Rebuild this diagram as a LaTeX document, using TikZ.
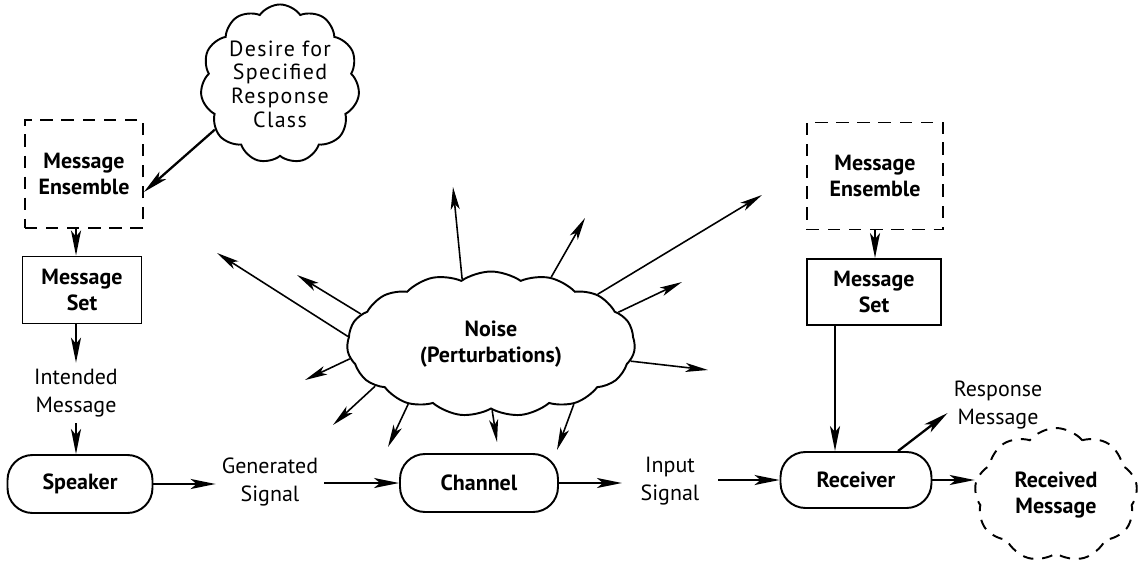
\documentclass[tikz,border=0pt]{standalone}
\usepackage{fontspec}
\setmainfont{PT Sans}
\usetikzlibrary{positioning,arrows.meta,shapes.symbols}
\tikzstyle{block}      = [draw, line width=1.1pt, align=center, font=\fontsize{12.5}{15}\selectfont\bfseries]
\tikzstyle{ensemble}   = [block, dash pattern=on 7pt off 5pt, minimum width=2.36cm, minimum height=2.16cm]
\tikzstyle{msgset}     = [block, minimum width=2.4cm, minimum height=1.34cm]
\tikzstyle{agent}      = [block, rounded corners=0.5cm, minimum height=1.16cm]
\tikzstyle{flowtext}   = [align=center, font=\fontsize{12.5}{16}\selectfont]
\tikzstyle{wish}       = [cloud, draw, line width=1.1pt, cloud puffs=11, cloud puff arc=110, aspect=1, inner sep=0pt, minimum width=2.75cm, minimum height=2.75cm, align=center, font=\fontsize{12.5}{13.5}\selectfont\addfontfeature{LetterSpace=6}]
\tikzstyle{noisecloud} = [cloud, draw, line width=1.1pt, cloud puffs=15, cloud puff arc=70, aspect=2, minimum width=5.76cm, minimum height=2.9cm, align=center, font=\fontsize{12.5}{15}\selectfont\bfseries]
\tikzstyle{dreamcloud} = [cloud, draw, line width=1.1pt, dash pattern=on 6pt off 5pt, cloud puffs=9, cloud puff arc=100, aspect=1.2, minimum width=3.26cm, minimum height=2.68cm, align=center, font=\fontsize{12.5}{15}\selectfont\bfseries]
\tikzstyle{arrow}      = [line width=1.3pt, -{Stealth[length=5mm,width=2mm,inset=1.2mm]}]
\tikzstyle{noisearrow} = [line width=0.9pt, -{Stealth[length=4.5mm,width=1.8mm,inset=1.1mm]}]

\begin{document}
\begin{tikzpicture}[x=0.02cm,y=-0.02cm]
	\useasboundingbox (0,0) rectangle (1146,571);

	% speaker side
	\node[wish] (desire) at (280,84) {Desire for\\Specified\\Response\\Class};
	\node[ensemble] (ensL) at (84,174) {Message\\Ensemble};
	\node[msgset, minimum width=2.38cm] (setL) at (82,290) {Message\\Set};
	\node[flowtext] (intended) at (76,393) {Intended\\Message};
	\node[agent, minimum width=2.9cm] (speaker) at (80,484) {Speaker};
	\node[flowtext] (generated) at (270,482) {Generated\\Signal};

	% channel and noise
	\node[agent, minimum width=3.16cm] (channel) at (479,483) {Channel};
	\node[noisecloud] (noise) at (491,344) {Noise\\(Perturbations)};
	\node[flowtext] (input) at (670,481) {Input\\Signal};

	% receiver side
	\node[ensemble, minimum width=2.72cm, minimum height=2.14cm] (ensR) at (875,176) {Message\\Ensemble};
	\node[msgset, minimum width=2.68cm, minimum height=1.32cm] (setR) at (874,292) {Message\\Set};
	\node[agent, minimum width=3.02cm, minimum height=1.12cm] (receiver) at (856,480) {Receiver};
	\node[flowtext] (response) at (998,405) {Response\\Message};
	\node[dreamcloud] (received) at (1056,495) {Received\\Message};

	% ends of the noise arrows
	\coordinate (n1) at (453,187);
	\coordinate (n2) at (585,218);
	\coordinate (n3) at (762,195);
	\coordinate (n4) at (682,282);
	\coordinate (n5) at (708,370);
	\coordinate (n6) at (557,450);
	\coordinate (n7) at (497,442);
	\coordinate (n8) at (388,447);
	\coordinate (n9) at (333,425);
	\coordinate (n10) at (305,380);
	\coordinate (n11) at (297,275);
	\coordinate (n12) at (217,253);

	\draw[arrow] (desire.215) -- ([yshift=-0.36cm]ensL.east);
	\draw[arrow] ([xshift=-0.16cm]ensL.south) -- ([xshift=-0.16cm]ensL.south |- setL.north);
	\draw[arrow] ([xshift=-0.12cm]setL.south) -- ([xshift=-0.12cm]setL.south |- intended.north);
	\draw[arrow] (intended.south) -- (intended.south |- speaker.north);
	\draw[arrow] (speaker.east) -- (speaker.east -| generated.west);
	\draw[arrow] (generated.east |- channel.west) -- (channel.west);
	\draw[arrow, shorten >=0.25cm] (channel.east) -- (channel.east -| input.west);
	\draw[arrow, shorten <=0.25cm] (input.east |- receiver.west) -- (receiver.west);
	\draw[arrow] (receiver.east) -- (receiver.east -| received.west);
	\draw[arrow] (ensR.south) -- (ensR.south |- setR.north);
	\draw[arrow] ([xshift=-0.78cm]setR.south) -- ([xshift=-0.78cm]setR.south |- receiver.north);
	\draw[arrow] ([xshift=0.84cm]receiver.north) -- ([yshift=-0.16cm]response.west);

	\draw[noisearrow] (noise.114) -- (n1);
	\draw[noisearrow] (noise.48) -- (n2);
	\draw[noisearrow] (noise.25) -- (n3);
	\draw[noisearrow] (noise.14) -- (n4);
	\draw[noisearrow] (noise.353) -- (n5);
	\draw[noisearrow] (noise.324) -- (n6);
	\draw[noisearrow] (noise.271) -- (n7);
	\draw[noisearrow] (noise.216) -- (n8);
	\draw[noisearrow] (noise.200) -- (n9);
	\draw[noisearrow] (noise.186) -- (n10);
	\draw[noisearrow] (noise.167) -- (n11);
	\draw[noisearrow] (noise.177) -- (n12);
\end{tikzpicture}
\end{document}
